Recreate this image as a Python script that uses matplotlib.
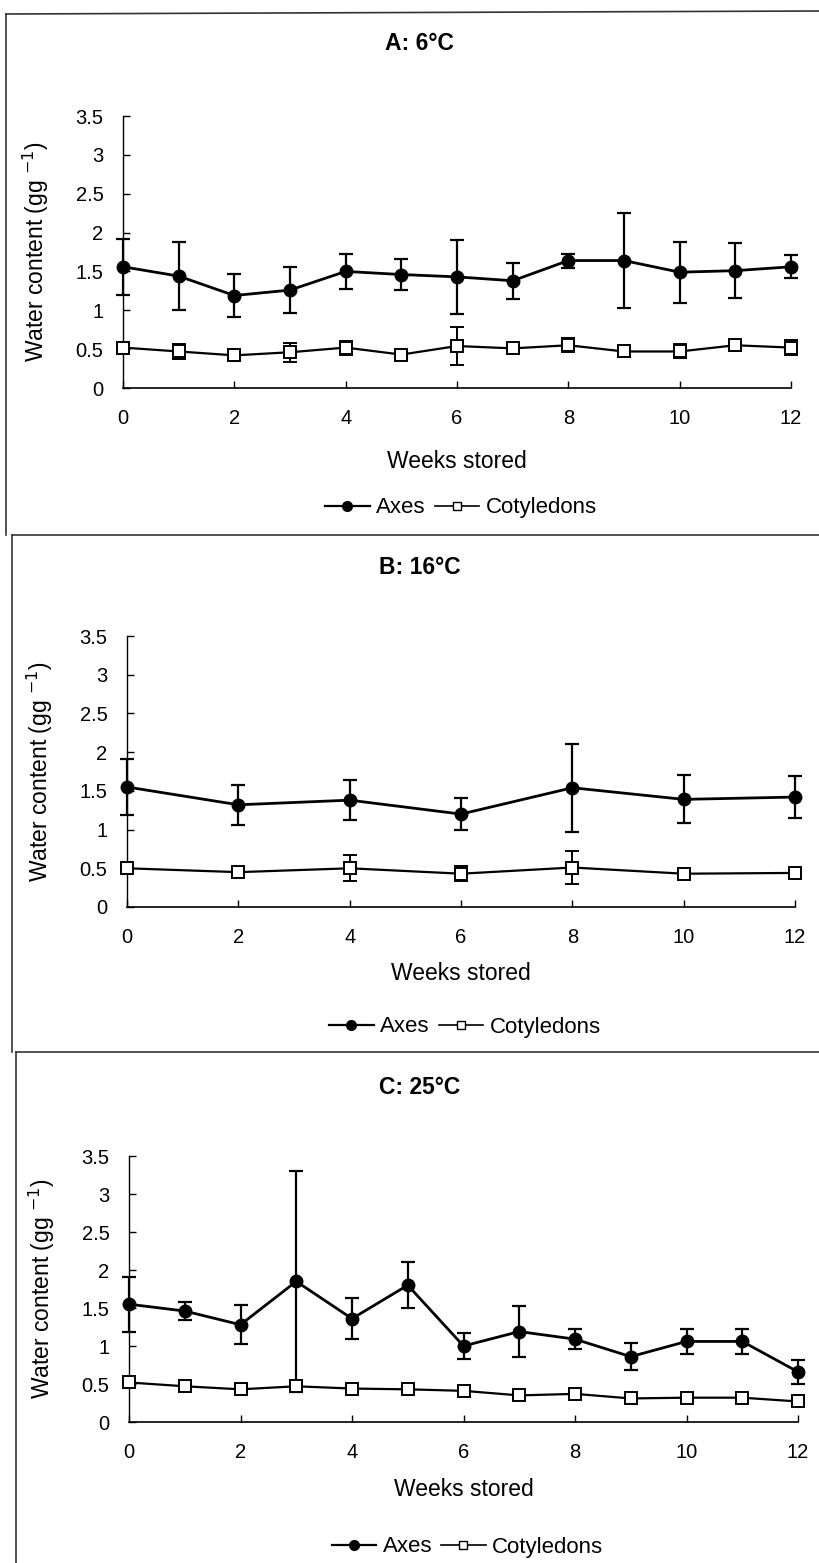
import matplotlib
matplotlib.use("Agg")
import matplotlib.pyplot as plt
from matplotlib.lines import Line2D

plt.rcParams["font.family"] = ["Liberation Sans", "DejaVu Sans"]

# Water content (g/g) of axes and cotyledons during storage
weeks_a = [0, 1, 2, 3, 4, 5, 6, 7, 8, 9, 10, 11, 12]
axes_a = [1.56, 1.44, 1.19, 1.26, 1.50, 1.46, 1.43, 1.38, 1.64, 1.64, 1.49, 1.51, 1.56]
axes_a_err = [0.36, 0.44, 0.28, 0.30, 0.22, 0.20, 0.48, 0.23, 0.09, 0.61, 0.39, 0.35, 0.15]
cot_a = [0.52, 0.47, 0.42, 0.46, 0.52, 0.43, 0.54, 0.51, 0.55, 0.47, 0.47, 0.55, 0.52]
cot_a_err = [0.07, 0.10, 0.07, 0.12, 0.09, 0.02, 0.24, 0.07, 0.09, 0.07, 0.09, 0.08, 0.10]

weeks_b = [0, 2, 4, 6, 8, 10, 12]
axes_b = [1.55, 1.32, 1.38, 1.20, 1.54, 1.39, 1.42]
axes_b_err = [0.36, 0.26, 0.26, 0.21, 0.57, 0.31, 0.27]
cot_b = [0.50, 0.45, 0.50, 0.43, 0.51, 0.43, 0.44]
cot_b_err = [0.02, 0.03, 0.17, 0.10, 0.21, 0.04, 0.02]

weeks_c = [0, 1, 2, 3, 4, 5, 6, 7, 8, 9, 10, 11, 12]
axes_c = [1.55, 1.46, 1.28, 1.85, 1.36, 1.80, 1.00, 1.19, 1.09, 0.86, 1.06, 1.06, 0.66]
axes_c_err = [0.36, 0.12, 0.26, 1.45, 0.27, 0.30, 0.17, 0.33, 0.13, 0.18, 0.16, 0.16, 0.16]
cot_c = [0.52, 0.47, 0.43, 0.47, 0.44, 0.43, 0.41, 0.35, 0.37, 0.31, 0.32, 0.32, 0.27]
cot_c_err = [0.02, 0.03, 0.04, 0.07, 0.05, 0.04, 0.03, 0.03, 0.03, 0.02, 0.02, 0.02, 0.02]

titles = ["A: 6°C", "B: 16°C", "C: 25°C"]
yticks = [0, 0.5, 1, 1.5, 2, 2.5, 3, 3.5]
ytick_labels = ["0", "0.5", "1", "1.5", "2", "2.5", "3", "3.5"]
xticks = [0, 2, 4, 6, 8, 10, 12]

W, H = 819, 1563
fig = plt.figure(figsize=(W / 100, H / 100), dpi=100)


def px_rect(left, right, top, bottom):
    return [left / W, 1 - bottom / H, (right - left) / W, (bottom - top) / H]


# pixel layout of each panel: axes box, title y, xlabel y, legend y
panels = [
    dict(box=(123, 791, 116, 388), title_y=43, xlab_y=462, leg_y=508,
         data=(weeks_a, axes_a, axes_a_err, cot_a, cot_a_err)),
    dict(box=(127, 795, 636, 907), title_y=568, xlab_y=974, leg_y=1027,
         data=(weeks_b, axes_b, axes_b_err, cot_b, cot_b_err)),
    dict(box=(129, 798, 1156, 1422), title_y=1087, xlab_y=1490, leg_y=1547,
         data=(weeks_c, axes_c, axes_c_err, cot_c, cot_c_err)),
]

for title, p in zip(titles, panels):
    left, right, top, bottom = p["box"]
    ax = fig.add_axes(px_rect(left, right, top, bottom))
    wk, ya, ea, yc, ec = p["data"]

    ax.errorbar(wk, ya, yerr=ea, color="black", lw=2, marker="o", ms=9,
                mfc="black", mec="black", capsize=5, elinewidth=1.6,
                capthick=1.6, clip_on=False, zorder=3)
    ax.errorbar(wk, yc, yerr=ec, color="black", lw=1.6, marker="s", ms=8,
                mfc="white", mec="black", mew=1.4, capsize=5, elinewidth=1.4,
                capthick=1.4, clip_on=False, zorder=3)

    ax.set_xlim(0, 12)
    ax.set_ylim(0, 3.5)
    ax.set_xticks(xticks)
    ax.set_yticks(yticks)
    ax.set_yticklabels(ytick_labels)
    ax.tick_params(direction="in", length=5, width=1, labelsize=14.5)
    ax.tick_params(axis="x", pad=15)
    ax.tick_params(axis="y", pad=14)
    ax.spines["top"].set_visible(False)
    ax.spines["right"].set_visible(False)
    ax.spines["left"].set_linewidth(1)
    ax.spines["bottom"].set_linewidth(1.2)
    ax.set_ylabel("Water content (gg $^{-1}$)", fontsize=16.5, labelpad=18)

    cx = (left + right) / 2 / W
    fig.text(0.512, 1 - p["title_y"] / H, title, ha="center", va="center",
             fontsize=16.5, fontweight="bold")
    fig.text(cx, 1 - p["xlab_y"] / H, "Weeks stored", ha="center",
             va="center", fontsize=16.5)

    handles = [
        Line2D([], [], color="black", lw=1.6, marker="o", ms=7, mfc="black"),
        Line2D([], [], color="black", lw=1.2, marker="s", ms=6, mfc="white"),
    ]
    fig.legend(handles, ["Axes", "Cotyledons"], loc="center",
               bbox_to_anchor=(cx + 0.005, 1 - p["leg_y"] / H), ncol=2,
               frameon=False, fontsize=16, handlelength=2.0,
               handletextpad=0.3, columnspacing=0.4)

# panel frame lines
frame = [
    ((6, 819), (14, 11)),
    ((6, 6), (14, 535)),
    ((12, 819), (535, 535)),
    ((12, 12), (535, 1052)),
    ((16, 819), (1052, 1052)),
    ((16, 16), (1052, 1563)),
]
for xs, ys in frame:
    fig.add_artist(Line2D([x / W for x in xs], [1 - y / H for y in ys],
                          color="#333333", lw=1.2))

fig.savefig("out.png", dpi=100)
